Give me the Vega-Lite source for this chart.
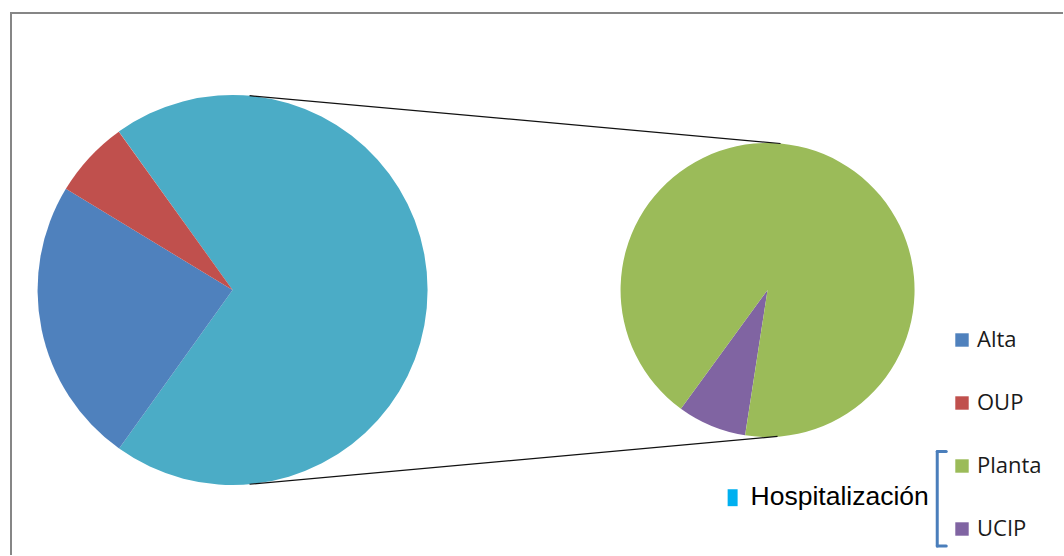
{
  "$schema": "https://vega.github.io/schema/vega-lite/v6.json",
  "width": 1064,
  "height": 556,
  "autosize": {"type": "fit", "contains": "padding"},
  "padding": {"left": 9, "top": 11, "right": 0, "bottom": 0},
  "background": "white",
  "config": {"view": {"stroke": null}},
  "datasets": {
    "main": [
      {"category": "Hospitalización", "value": 69.8, "slice_order": 1},
      {"category": "Alta", "value": 23.8, "slice_order": 2},
      {"category": "OUP", "value": 6.4, "slice_order": 3}
    ],
    "detail": [
      {"category": "UCIP", "value": 5.3, "slice_order": 1},
      {"category": "Planta", "value": 64.5, "slice_order": 2}
    ],
    "note": [{"label": "Hospitalización"}]
  },
  "resolve": {"scale": {"theta": "independent"}},
  "layer": [
    {
      "data": {"values": [{}]},
      "mark": {"type": "rule", "color": "#868686", "strokeWidth": 2},
      "encoding": {
        "x": {"datum": 9, "type": "quantitative", "scale": {"domain": [9, 1064], "nice": false, "zero": false}, "axis": null},
        "x2": {"datum": 1064},
        "y": {"datum": 12, "type": "quantitative", "scale": {"domain": [11, 556], "nice": false, "zero": false, "reverse": true}, "axis": null}
      }
    },
    {
      "data": {"values": [{}]},
      "mark": {"type": "rule", "color": "#868686", "strokeWidth": 2},
      "encoding": {
        "x": {"datum": 10, "type": "quantitative", "axis": null},
        "y": {"datum": 11, "type": "quantitative", "axis": null},
        "y2": {"datum": 556}
      }
    },
    {
      "data": {"name": "main"},
      "mark": {"type": "arc", "outerRadius": 195},
      "encoding": {
        "theta": {"field": "value", "type": "quantitative", "stack": true, "scale": {"range": [-0.623, 5.660]}},
        "order": {"field": "slice_order", "type": "quantitative"},
        "color": {
          "field": "category", "type": "nominal",
          "scale": {"domain": ["Alta", "OUP", "Hospitalización", "Planta", "UCIP"], "range": ["#4F81BD", "#C0504D", "#4BACC6", "#9BBB59", "#8064A2"]},
          "legend": {
            "values": ["Alta", "OUP", "Planta", "UCIP"],
            "orient": "none", "legendX": 941, "legendY": 317, "title": null,
            "symbolType": "square", "symbolSize": 180, "symbolStrokeWidth": 0,
            "labelFont": "Open Sans", "labelFontSize": 22, "labelColor": "#1a1a1a",
            "labelOffset": 4, "rowPadding": 41, "padding": 0
          }
        },
        "x": {"datum": 232, "type": "quantitative", "axis": null},
        "y": {"datum": 290, "type": "quantitative", "axis": null}
      }
    },
    {
      "data": {"name": "detail"},
      "mark": {"type": "arc", "outerRadius": 147},
      "encoding": {
        "theta": {"field": "value", "type": "quantitative", "stack": true, "scale": {"range": [3.295, 9.578]}},
        "order": {"field": "slice_order", "type": "quantitative"},
        "color": {"field": "category", "type": "nominal"},
        "x": {"datum": 768, "type": "quantitative", "axis": null},
        "y": {"datum": 290, "type": "quantitative", "axis": null}
      }
    },
    {
      "data": {"values": [{}]},
      "mark": {"type": "rule", "color": "#111111", "strokeWidth": 1.2},
      "encoding": {
        "x": {"datum": 249, "type": "quantitative", "axis": null},
        "y": {"datum": 95, "type": "quantitative", "axis": null},
        "x2": {"datum": 781},
        "y2": {"datum": 143}
      }
    },
    {
      "data": {"values": [{}]},
      "mark": {"type": "rule", "color": "#111111", "strokeWidth": 1.2},
      "encoding": {
        "x": {"datum": 249, "type": "quantitative", "axis": null},
        "y": {"datum": 485, "type": "quantitative", "axis": null},
        "x2": {"datum": 778},
        "y2": {"datum": 437}
      }
    },
    {
      "data": {"values": [{}]},
      "mark": {"type": "rule", "color": "#4A7EBB", "strokeWidth": 3, "strokeCap": "round"},
      "encoding": {
        "x": {"datum": 938, "type": "quantitative", "axis": null},
        "y": {"datum": 452, "type": "quantitative", "axis": null},
        "y2": {"datum": 547}
      }
    },
    {
      "data": {"values": [{}]},
      "mark": {"type": "rule", "color": "#4A7EBB", "strokeWidth": 3, "strokeCap": "round"},
      "encoding": {
        "x": {"datum": 938, "type": "quantitative", "axis": null},
        "x2": {"datum": 947},
        "y": {"datum": 452, "type": "quantitative", "axis": null}
      }
    },
    {
      "data": {"values": [{}]},
      "mark": {"type": "rule", "color": "#4A7EBB", "strokeWidth": 3, "strokeCap": "round"},
      "encoding": {
        "x": {"datum": 938, "type": "quantitative", "axis": null},
        "x2": {"datum": 947},
        "y": {"datum": 547, "type": "quantitative", "axis": null}
      }
    },
    {
      "data": {"values": [{}]},
      "mark": {"type": "rect", "color": "#00B0F0"},
      "encoding": {
        "x": {"datum": 728, "type": "quantitative", "axis": null},
        "x2": {"datum": 738},
        "y": {"datum": 490, "type": "quantitative", "axis": null},
        "y2": {"datum": 507}
      }
    },
    {
      "data": {"name": "note"},
      "mark": {"type": "text", "align": "left", "baseline": "middle", "font": "Liberation Sans", "fontSize": 26.5, "color": "#000000"},
      "encoding": {
        "text": {"field": "label", "type": "nominal"},
        "x": {"datum": 751, "type": "quantitative", "axis": null},
        "y": {"datum": 498, "type": "quantitative", "axis": null}
      }
    }
  ]
}
